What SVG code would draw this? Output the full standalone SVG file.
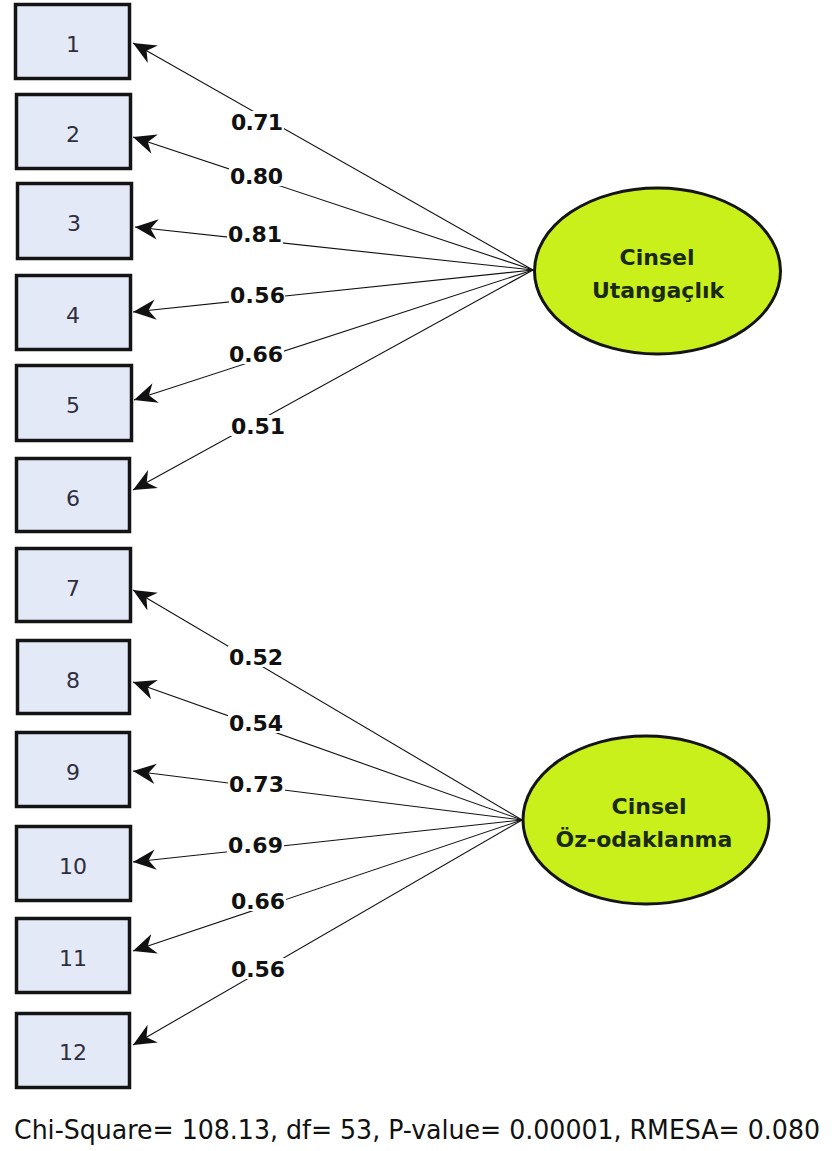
<svg xmlns="http://www.w3.org/2000/svg" width="832" height="1151" viewBox="0 0 832 1151">
<style>
.box{fill:#e3e9f6;stroke:#141414;stroke-width:3.5}
.bl{font-family:"DejaVu Sans","Liberation Sans",sans-serif;font-size:22px;fill:#2e2e40;text-anchor:middle}
.lat{fill:#c9f01a;stroke:#141414;stroke-width:3}
.lt{font-family:"DejaVu Sans","Liberation Sans",sans-serif;font-size:22px;font-weight:bold;fill:#1a2a10;text-anchor:middle}
.ln{stroke:#111;stroke-width:1.1;fill:none;marker-end:url(#ah)}
.lb{font-family:"DejaVu Sans","Liberation Sans",sans-serif;font-size:22px;font-weight:bold;fill:#111}
.bg{fill:#fff}
.ft{font-family:"DejaVu Sans Condensed","DejaVu Sans",sans-serif;font-stretch:condensed;font-size:27px;fill:#111}
</style>
<defs>
<marker id="ah" markerUnits="userSpaceOnUse" markerWidth="24" markerHeight="24" viewBox="0 -10 20 20" refX="19" refY="0" orient="auto">
<path d="M19,0 L0,-8.5 L6,0 L0,8.5 z" fill="#111"/>
</marker>
</defs>
<rect width="832" height="1151" fill="#fff"/>
<g id="connectors">
<line class="ln" x1="533" y1="270" x2="133" y2="43"/>
<line class="ln" x1="533" y1="270" x2="133" y2="137"/>
<line class="ln" x1="533" y1="270" x2="135" y2="227"/>
<line class="ln" x1="533" y1="270" x2="133" y2="312"/>
<line class="ln" x1="533" y1="270" x2="134" y2="400"/>
<line class="ln" x1="533" y1="270" x2="133" y2="490"/>
<line class="ln" x1="522" y1="820" x2="133" y2="590"/>
<line class="ln" x1="522" y1="820" x2="133" y2="682"/>
<line class="ln" x1="522" y1="820" x2="133" y2="771"/>
<line class="ln" x1="522" y1="820" x2="133" y2="862"/>
<line class="ln" x1="522" y1="820" x2="133" y2="951"/>
<line class="ln" x1="522" y1="820" x2="133" y2="1045"/>
<g id="labels">
<rect class="bg" x="230" y="111" width="54" height="21"/><text class="lb" x="231" y="130" textLength="52">0.71</text>
<rect class="bg" x="229" y="165" width="54" height="21"/><text class="lb" x="230" y="184" textLength="53">0.80</text>
<rect class="bg" x="227" y="223" width="56" height="21"/><text class="lb" x="228" y="242" textLength="54">0.81</text>
<rect class="bg" x="229" y="284" width="56" height="21"/><text class="lb" x="230" y="303" textLength="55">0.56</text>
<rect class="bg" x="228" y="343" width="56" height="21"/><text class="lb" x="229" y="362" textLength="54">0.66</text>
<rect class="bg" x="230" y="415" width="56" height="21"/><text class="lb" x="231" y="434" textLength="54">0.51</text>
<rect class="bg" x="228" y="646" width="56" height="21"/><text class="lb" x="229" y="665" textLength="54">0.52</text>
<rect class="bg" x="228" y="712" width="56" height="21"/><text class="lb" x="229" y="731" textLength="54">0.54</text>
<rect class="bg" x="228" y="773" width="57" height="21"/><text class="lb" x="229" y="792" textLength="55">0.73</text>
<rect class="bg" x="227" y="834" width="57" height="21"/><text class="lb" x="228" y="853" textLength="55">0.69</text>
<rect class="bg" x="230" y="890" width="56" height="21"/><text class="lb" x="231" y="909" textLength="54">0.66</text>
<rect class="bg" x="230" y="958" width="56" height="21"/><text class="lb" x="231" y="977" textLength="54">0.56</text>
</g>
</g>
<g id="n1"><rect class="box" x="15.5" y="4.5" width="114" height="74"/><text class="bl" x="73" y="52">1</text></g>
<g id="n2"><rect class="box" x="16.5" y="94.5" width="114" height="74"/><text class="bl" x="73" y="142">2</text></g>
<g id="n3"><rect class="box" x="17.5" y="183.5" width="114" height="75"/><text class="bl" x="74" y="231">3</text></g>
<g id="n4"><rect class="box" x="16.5" y="275.5" width="114" height="74"/><text class="bl" x="73" y="323">4</text></g>
<g id="n5"><rect class="box" x="16.5" y="365.5" width="115" height="75"/><text class="bl" x="73" y="413">5</text></g>
<g id="n6"><rect class="box" x="16.5" y="458.5" width="113" height="73"/><text class="bl" x="73" y="506">6</text></g>
<g id="n7"><rect class="box" x="16.5" y="548.5" width="114" height="73"/><text class="bl" x="73" y="596">7</text></g>
<g id="n8"><rect class="box" x="17.5" y="640.5" width="112" height="73"/><text class="bl" x="73" y="688">8</text></g>
<g id="n9"><rect class="box" x="16.5" y="732.5" width="113" height="74"/><text class="bl" x="73" y="780">9</text></g>
<g id="n10"><rect class="box" x="16.5" y="826.5" width="114" height="74"/><text class="bl" x="73" y="874">10</text></g>
<g id="n11"><rect class="box" x="16.5" y="918.5" width="113" height="74"/><text class="bl" x="73" y="966">11</text></g>
<g id="n12"><rect class="box" x="16.5" y="1013.5" width="113" height="74"/><text class="bl" x="73" y="1060">12</text></g>
<g id="lv1"><ellipse class="lat" cx="657.5" cy="271" rx="123" ry="83"/><text class="lt" x="657" y="265">Cinsel</text><text class="lt" x="658" y="298">Utangaçlık</text></g>
<g id="lv2"><ellipse class="lat" cx="646" cy="820" rx="123" ry="84"/><text class="lt" x="649" y="814">Cinsel</text><text class="lt" x="644" y="847">Öz-odaklanma</text></g>
<text class="ft" x="14" y="1139" textLength="806" lengthAdjust="spacingAndGlyphs">Chi-Square= 108.13, df= 53, P-value= 0.00001, RMESA= 0.080</text>
</svg>
